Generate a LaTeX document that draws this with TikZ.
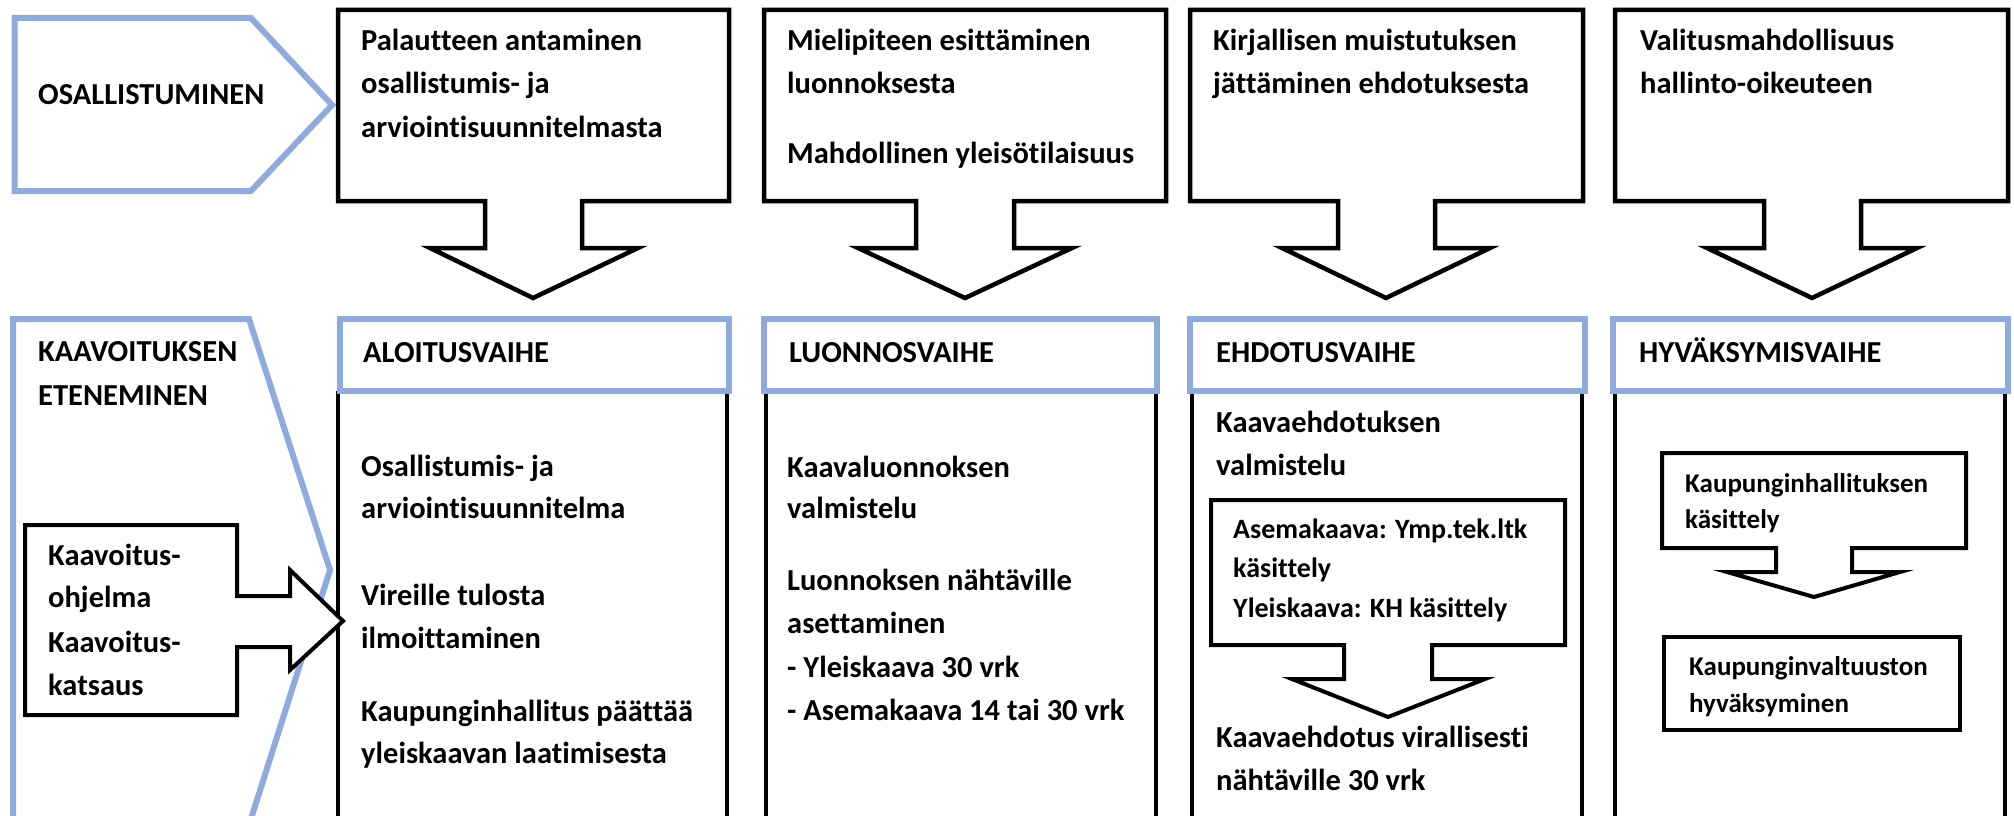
\documentclass[tikz,border=0pt]{standalone}
\usepackage{fontspec}
\setmainfont{Carlito}[Ligatures=NoCommon]
\definecolor{bl}{RGB}{143,170,220}
\begin{document}
\begin{tikzpicture}[x=1pt,y=-1pt,
  txt/.style={anchor=base west,inner sep=0pt,font=\bfseries\fontsize{30.5}{36}\selectfont},
  stxt/.style={anchor=base west,inner sep=0pt,font=\bfseries\fontsize{28}{34}\selectfont},
  xtxt/.style={anchor=base west,inner sep=0pt,font=\bfseries\fontsize{27}{32}\selectfont},
  bluebox/.style={draw=bl,line width=6pt,fill=white},
  callout/.style={draw=black,line width=4.5pt,fill=white},
  icallout/.style={draw=black,line width=4pt,fill=white},
  colline/.style={draw=black,line width=4pt}]
\clip (0,0) rectangle (2014,816);
\fill[white] (0,0) rectangle (2014,816);

% ---- top row: participation pentagon ----
\draw[bluebox] (14.5,18) -- (251,18) -- (332,105) -- (251,191) -- (14.5,191) -- cycle;
\node[txt] (osal) at (38,104) {OSALLISTUMINEN};

% ---- top callouts ----
\draw[callout] (338,10) -- (729,10) -- (729,201) -- (582,201) -- (582,248) -- (638,248) -- (533,298) -- (430,248) -- (485,248) -- (485,201) -- (338,201) -- cycle;
\draw[callout] (764,10) -- (1166,10) -- (1166,201) -- (1014,201) -- (1014,248) -- (1072,248) -- (965,298) -- (858,248) -- (916,248) -- (916,201) -- (764,201) -- cycle;
\draw[callout] (1190,10) -- (1583,10) -- (1583,201) -- (1435,201) -- (1435,248) -- (1490,248) -- (1386,298) -- (1282,248) -- (1338,248) -- (1338,201) -- (1190,201) -- cycle;
\draw[callout] (1615,10) -- (2008,10) -- (2008,201) -- (1861,201) -- (1861,248) -- (1917,248) -- (1812,298) -- (1707,248) -- (1764,248) -- (1764,201) -- (1615,201) -- cycle;

\node[txt] (a1) at (361,50.5) {Palautteen antaminen};
\node[txt] (a2) at (361,93.5) {osallistumis- ja};
\node[txt] (a3) at (361,137) {arviointisuunnitelmasta};
\node[txt] (b1) at (787,50.5) {Mielipiteen esittäminen};
\node[txt] (b2) at (787,93.5) {luonnoksesta};
\node[txt] (b3) at (787,163) {Mahdollinen yleisötilaisuus};
\node[txt] (c1) at (1213,50.5) {Kirjallisen muistutuksen};
\node[txt] (c2) at (1213,93.5) {jättäminen ehdotuksesta};
\node[txt] (d1) at (1640,50.5) {Valitusmahdollisuus};
\node[txt] (d2) at (1640,93.5) {hallinto-oikeuteen};

% ---- bottom row: progress pentagon ----
\draw[bluebox] (13,319) -- (249,319) -- (330,570) -- (250,822) -- (13,822) -- cycle;
\node[txt] (k1) at (38,361) {KAAVOITUKSEN};
\node[txt] (k2) at (38,405) {ETENEMINEN};

% ---- columns ----
\draw[colline] (338,391) -- (338,830);
\draw[colline] (727,391) -- (727,830);
\draw[colline] (766,391) -- (766,830);
\draw[colline] (1156,391) -- (1156,830);
\draw[colline] (1192,391) -- (1192,830);
\draw[colline] (1582,391) -- (1582,830);
\draw[colline] (1615,391) -- (1615,830);
\draw[colline] (2005,391) -- (2005,830);

\draw[bluebox] (340,319) rectangle (729,391);
\draw[bluebox] (764,319) rectangle (1157,391);
\draw[bluebox] (1190,319) rectangle (1585,391);
\draw[bluebox] (1613,319) rectangle (2008,391);
\node[txt] (h1) at (363,362) {ALOITUSVAIHE};
\node[txt] (h2) at (789,362) {LUONNOSVAIHE};
\node[txt] (h3) at (1216,362) {EHDOTUSVAIHE};
\node[txt] (h4) at (1639,362) {HYVÄKSYMISVAIHE};

% ---- small left callout ----
\draw[icallout] (25,525) -- (237,525) -- (237,596) -- (290,596) -- (290,570) -- (343,621) -- (290,670) -- (290,647) -- (237,647) -- (237,715) -- (25,715) -- cycle;
\node[txt] (s1) at (48,565) {Kaavoitus-};
\node[txt] (s2) at (48,607) {ohjelma};
\node[txt] (s3) at (48,652) {Kaavoitus-};
\node[txt] (s4) at (48,695) {katsaus};

% ---- Aloitus column ----
\node[txt] (e1) at (361,476) {Osallistumis- ja};
\node[txt] (e2) at (361,518) {arviointisuunnitelma};
\node[txt] (e3) at (361,605) {Vireille tulosta};
\node[txt] (e4) at (361,648) {ilmoittaminen};
\node[txt] (e5) at (361,721) {Kaupunginhallitus päättää};
\node[txt] (e6) at (361,763) {yleiskaavan laatimisesta};

% ---- Luonnos column ----
\node[txt] (f1) at (787,477) {Kaavaluonnoksen};
\node[txt] (f2) at (787,518) {valmistelu};
\node[txt] (f3) at (787,590) {Luonnoksen nähtäville};
\node[txt] (f4) at (787,633) {asettaminen};
\node[txt] (f5) at (787,677) {- Yleiskaava 30 vrk};
\node[txt] (f6) at (787,720) {- Asemakaava 14 tai 30 vrk};

% ---- Ehdotus column ----
\node[txt] (g1) at (1216,432) {Kaavaehdotuksen};
\node[txt] (g2) at (1216,475) {valmistelu};
\draw[icallout] (1211,500) -- (1565,500) -- (1565,645) -- (1432,645) -- (1432,679) -- (1485,679) -- (1388,717) -- (1292,679) -- (1344,679) -- (1344,645) -- (1211,645) -- cycle;
\node[stxt] (g3) at (1233,538) {Asemakaava: Ymp.tek.ltk};
\node[stxt] (g4) at (1233,577) {käsittely};
\node[stxt] (g5) at (1233,617) {Yleiskaava: KH käsittely};
\node[txt] (g6) at (1216,747) {Kaavaehdotus virallisesti};
\node[txt] (g7) at (1216,790) {nähtäville 30 vrk};

% ---- Hyvaksymis column ----
\draw[icallout] (1662,453) -- (1966,453) -- (1966,548) -- (1852,548) -- (1852,572) -- (1900,572) -- (1814,597) -- (1727,572) -- (1776,572) -- (1776,548) -- (1662,548) -- cycle;
\node[xtxt] (m1) at (1685,492) {Kaupunginhallituksen};
\node[xtxt] (m2) at (1685,528) {käsittely};
\draw[icallout] (1664,637) rectangle (1960,730);
\node[xtxt] (m3) at (1689,675) {Kaupunginvaltuuston};
\node[xtxt] (m4) at (1689,712) {hyväksyminen};
\end{tikzpicture}
\end{document}
